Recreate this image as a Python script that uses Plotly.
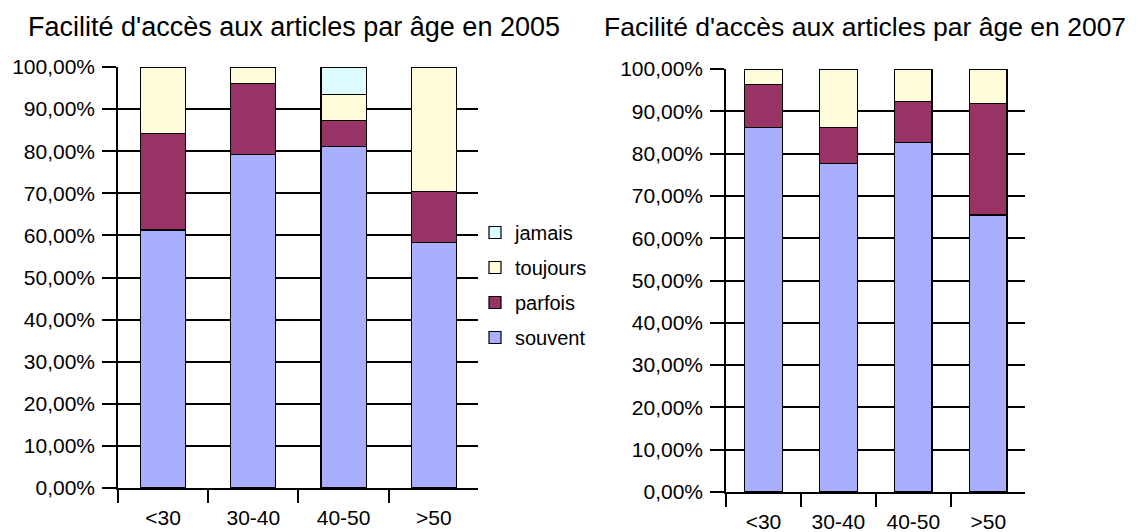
import plotly.graph_objects as go

categories = ["<30", "30-40", "40-50", ">50"]

series_names = ["souvent", "parfois", "toujours", "jamais"]
series_colors = ["#AAAEFF", "#993366", "#FFFCDC", "#DDFCFF"]
legend_ranks = [4, 3, 2, 1]

# 2005 values (% of respondents, stacked segments)
souvent_2005 = [61.3, 79.3, 81.1, 58.4]
parfois_2005 = [23.0, 16.7, 6.2, 12.0]
toujours_2005 = [15.7, 4.0, 6.2, 29.6]
jamais_2005 = [0.0, 0.0, 6.5, 0.0]

# 2007 values
souvent_2007 = [86.1, 77.6, 82.6, 65.5]
parfois_2007 = [10.2, 8.6, 9.7, 26.4]
toujours_2007 = [3.7, 13.8, 7.7, 8.1]
jamais_2007 = [0.0, 0.0, 0.0, 0.0]

title_2005 = "Facilité d'accès aux articles par âge en 2005"
title_2007 = "Facilité d'accès aux articles par âge en 2007"

y_ticks = [0, 10, 20, 30, 40, 50, 60, 70, 80, 90, 100]
y_ticktext = [f"{v:.2f}".replace(".", ",") + "%" for v in y_ticks]

FONT = "Liberation Sans, Arial, sans-serif"
W, H = 1132, 524  # page body has an 8px margin in the 1140x532 window

fig = go.Figure()

data_2005 = [souvent_2005, parfois_2005, toujours_2005, jamais_2005]
data_2007 = [souvent_2007, parfois_2007, toujours_2007, jamais_2007]

for name, color, rank, vals in zip(series_names, series_colors, legend_ranks, data_2005):
    fig.add_trace(go.Bar(
        x=categories, y=vals, name=name, legendgroup=name, legendrank=rank,
        marker=dict(color=color, line=dict(color="black", width=1.2)),
        xaxis="x", yaxis="y", showlegend=True,
    ))
for name, color, rank, vals in zip(series_names, series_colors, legend_ranks, data_2007):
    fig.add_trace(go.Bar(
        x=categories, y=vals, name=name, legendgroup=name, legendrank=rank,
        marker=dict(color=color, line=dict(color="black", width=1.2)),
        xaxis="x2", yaxis="y2", showlegend=False,
    ))

xaxis_common = dict(
    type="category", range=[-0.5, 3.49], showgrid=False, showline=True,
    linecolor="black", linewidth=1.5, ticks="outside", tickson="boundaries",
    ticklen=13, tickwidth=1.5, tickcolor="black", fixedrange=True,
    ticklabelstandoff=10, automargin=False,
    tickfont=dict(family=FONT, size=21, color="black"),
)
yaxis_common = dict(
    range=[0, 100], tickvals=y_ticks, ticktext=y_ticktext,
    showgrid=True, gridcolor="black", gridwidth=1.5, showline=True,
    linecolor="black", linewidth=1.5, ticks="outside", ticklen=14,
    tickwidth=1.5, tickcolor="black", zeroline=False, fixedrange=True,
    ticklabelstandoff=3, automargin=False,
    tickfont=dict(family=FONT, size=21, color="black"),
)

fig.update_layout(
    width=W, height=H,
    margin=dict(l=0, r=0, t=0, b=0, autoexpand=False),
    paper_bgcolor="white", plot_bgcolor="white",
    barmode="stack", bargap=0.5,
    font=dict(family=FONT, color="black"),
    xaxis=dict(domain=[110 / W, 470 / W], anchor="y", **xaxis_common),
    yaxis=dict(domain=[44 / H, 465 / H], anchor="x", **yaxis_common),
    xaxis2=dict(domain=[718 / W, 1017 / W], anchor="y2", **xaxis_common),
    yaxis2=dict(domain=[40 / H, 463 / H], anchor="x2", **yaxis_common),
    legend=dict(
        x=467 / W, y=1 - 205 / H, xanchor="left", yanchor="top",
        traceorder="grouped", tracegroupgap=6,
        font=dict(family=FONT, size=20, color="black"),
        bgcolor="rgba(0,0,0,0)", itemwidth=30,
    ),
    annotations=[
        dict(text=title_2005, x=285.5 / W, y=1 - 19 / H, xref="paper", yref="paper",
             xanchor="center", yanchor="middle", showarrow=False,
             font=dict(family=FONT, size=27, color="black")),
        dict(text=title_2007, x=857 / W, y=1 - 19 / H, xref="paper", yref="paper",
             xanchor="center", yanchor="middle", showarrow=False,
             font=dict(family=FONT, size=26.5, color="black")),
    ],
)

fig.write_html("out.html")
